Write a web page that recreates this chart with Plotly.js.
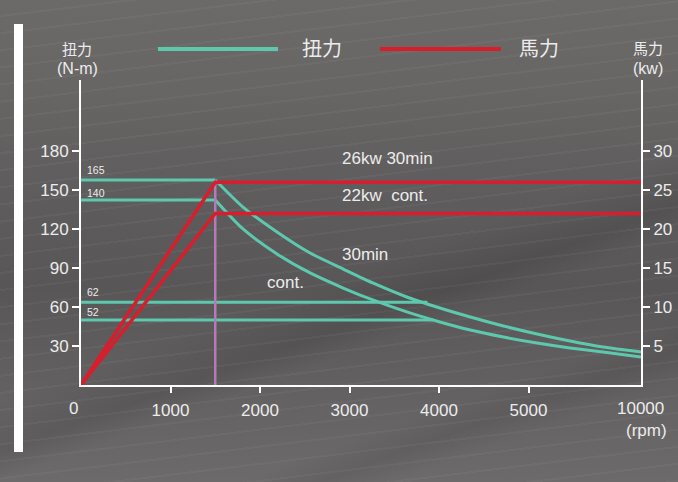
<!DOCTYPE html>
<html>
<head>
<meta charset="utf-8">
<script src="https://cdn.plot.ly/plotly-3.0.1.min.js"></script>
<style>
  html, body { margin:0; padding:0; width:678px; height:482px; overflow:hidden; }
  body {
    position: relative;
    background:
      repeating-linear-gradient(-7deg, rgba(255,255,255,0.035) 0px, rgba(255,255,255,0.035) 2px, rgba(0,0,0,0) 2px, rgba(0,0,0,0) 17px),
      linear-gradient(160deg, rgba(0,0,0,0) 55%, rgba(0,0,0,0.10) 62%, rgba(0,0,0,0) 66%, rgba(0,0,0,0) 78%, rgba(0,0,0,0.08) 82%, rgba(0,0,0,0) 86%),
      linear-gradient(180deg, #6c6969 0%, #686565 18%, #5e5c5c 40%, #585656 60%, #626060 80%, #6c6a6a 100%);
  }
  #bar { position:absolute; left:14px; top:24px; width:9px; height:428px; background:#ffffff; }
  #chart { position:absolute; left:0; top:0; width:678px; height:482px; }
</style>
</head>
<body>
<div id="bar"></div>
<div id="chart"></div>
<script>
// ---- data (rpm, N-m, kW) ----
const xTickRpm = [1000, 2000, 3000, 4000, 5000];
const xTickLabels = ["1000", "2000", "3000", "4000", "5000"];
const yTorqueTicks = [30, 60, 90, 120, 150, 180];
const yPowerTicks = [5, 10, 15, 20, 25, 30];

// 30min torque: flat part and falling curve
const rpm30Flat = [0, 1500];
const torque30Flat = [157.7, 157.7];
const rpm30 = [1500, 1810, 2190, 2560, 2930, 3260, 3640, 4010, 4350, 4720, 5380, 6846, 8310, 10000];
const torque30 = [157.7, 136.9, 117.7, 101.5, 89.2, 78.5, 67.7, 59.2, 52.3, 45.4, 39.2, 33.8, 29.2, 25.4];
// continuous torque: flat part and falling curve
const rpmContFlat = [0, 1500];
const torqueContFlat = [142.3, 142.3];
const rpmCont = [1500, 1810, 2190, 2560, 2930, 3260, 3640, 4010, 4350, 4720, 5380, 6846, 8310, 10000];
const torqueCont = [142.3, 120, 100.8, 86.2, 74.6, 65.4, 56.2, 48.5, 42.3, 36.9, 32.3, 28.5, 25.4, 21.5];
// low torque lines
const rpmLow62 = [0, 3870];
const torqueLow62 = [63.6, 63.6];
const rpmLow52 = [0, 3940];
const torqueLow52 = [50, 50];
// power curves (kW)
const rpmPower = [0, 1500, 10000];
const power30 = [0, 26, 26];
const powerCont = [0, 22, 22];
// base speed marker
const rpmBase = [1500, 1500];
const torqueBase = [0, 157.7];

const torqueLabels = ["165", "140", "62", "52"];
const torqueLabelY = [165.5, 148, 71.5, 56.5];

// broken x axis: 0-5000 linear, 5000-10000 compressed into last segment
const SEG_END = 6257;
function pos(r) { return r <= 5000 ? r : 5000 + (r - 5000) * (SEG_END - 5000) / 5000; }
const P = arr => arr.map(pos);

const TEAL = '#5ec8ae';
const RED = '#d81e2c';
const PURPLE = '#b67ab8';
const TXT = '#ececec';
const FONT = 'Liberation Sans, Arial, Helvetica, sans-serif';
const CJK = 'Noto Sans CJK TC, Noto Sans CJK SC, sans-serif';

const tealLine = {color: TEAL, width: 3};
const tealCurve = {color: TEAL, width: 3, shape: 'spline', smoothing: 0.7};
const traces = [
  {x: P(rpmLow62), y: torqueLow62, mode: 'lines', line: tealLine, yaxis: 'y'},
  {x: P(rpmLow52), y: torqueLow52, mode: 'lines', line: tealLine, yaxis: 'y'},
  {x: P(rpm30Flat), y: torque30Flat, mode: 'lines', line: tealLine, yaxis: 'y'},
  {x: P(rpmContFlat), y: torqueContFlat, mode: 'lines', line: tealLine, yaxis: 'y'},
  {x: P(rpm30), y: torque30, mode: 'lines', line: tealCurve, yaxis: 'y'},
  {x: P(rpmCont), y: torqueCont, mode: 'lines', line: tealCurve, yaxis: 'y'},
  {x: P(rpmPower), y: power30, mode: 'lines', line: {color: RED, width: 3.5}, yaxis: 'y2'},
  {x: P(rpmPower), y: powerCont, mode: 'lines', line: {color: RED, width: 3.5}, yaxis: 'y2'},
  {x: P(rpmBase), y: torqueBase, mode: 'lines', line: {color: PURPLE, width: 2.5}, yaxis: 'y'}
];

const annotations = [];
function txt(text, x, y, size) {
  annotations.push({
    text: text, x: x, y: y, xref: 'x', yref: 'y', showarrow: false,
    font: {family: FONT, size: size, color: TXT}, xanchor: 'left', yanchor: 'middle'
  });
}
// small torque labels
torqueLabels.forEach((t, i) => txt(t, 40, torqueLabelY[i], 10.5));
// curve labels
txt('26kw 30min', pos(2890), 174.5, 17);
txt('22kw&nbsp;&nbsp;cont.', pos(2890), 146, 17);
txt('30min', pos(2890), 100, 17);
txt('cont.', pos(2060), 78.5, 17);
// x-axis end labels
annotations.push({text: '0', x: 0, xref: 'x', y: 0, yref: 'paper', xshift: -8, yshift: -23, showarrow: false,
  font: {family: FONT, size: 17, color: TXT}, xanchor: 'center', yanchor: 'middle'});
annotations.push({text: '10000', x: SEG_END, xref: 'x', y: 0, yref: 'paper', xshift: -1, yshift: -23, showarrow: false,
  font: {family: FONT, size: 17, color: TXT}, xanchor: 'center', yanchor: 'middle'});
annotations.push({text: '(rpm)', x: SEG_END, xref: 'x', y: 0, yref: 'paper', xshift: 5, yshift: -45, showarrow: false,
  font: {family: FONT, size: 17, color: TXT}, xanchor: 'center', yanchor: 'middle'});

const layout = {
  width: 678, height: 482,
  margin: {l: 81, r: 37, t: 80, b: 97, pad: 0},
  paper_bgcolor: 'rgba(0,0,0,0)',
  plot_bgcolor: 'rgba(0,0,0,0)',
  showlegend: false,
  xaxis: {
    range: [0, SEG_END], tickvals: xTickRpm.map(pos), ticktext: xTickLabels,
    showgrid: false, zeroline: false, showline: true, linecolor: '#ffffff', linewidth: 2,
    ticks: 'outside', ticklen: 6, tickwidth: 2, tickcolor: '#ffffff', ticklabelstandoff: 3,
    tickfont: {family: FONT, size: 17, color: TXT}, fixedrange: true
  },
  yaxis: {
    range: [0, 234.6], tickvals: yTorqueTicks,
    showgrid: false, zeroline: false, showline: true, linecolor: '#ffffff', linewidth: 2,
    ticks: 'outside', ticklen: 7, tickwidth: 2, tickcolor: '#ffffff',
    tickfont: {family: FONT, size: 17, color: TXT}
  },
  yaxis2: {
    range: [0, 39.1], tickvals: yPowerTicks, overlaying: 'y', side: 'right',
    showgrid: false, zeroline: false, showline: true, linecolor: '#ffffff', linewidth: 2,
    ticks: 'outside', ticklen: 7, tickwidth: 2, tickcolor: '#ffffff',
    tickfont: {family: FONT, size: 17, color: TXT}
  },
  shapes: [],
  annotations: []
};

// header texts and hand-drawn legend in paper coordinates
const W = 678 - 81 - 37, H = 482 - 80 - 97;
const px = v => (v - 81) / W;
const py = v => (482 - 97 - v) / H;
function ptxt(text, x, y, size, family, anchor) {
  annotations.push({text: text, x: px(x), y: py(y), xref: 'paper', yref: 'paper', showarrow: false,
    xanchor: anchor || 'center', yanchor: 'middle', font: {family: family, size: size, color: TXT}});
}
ptxt('扭力', 77, 49, 15, CJK);
ptxt('(N-m)', 77, 68, 16, FONT);
ptxt('馬力', 648, 48, 15, CJK);
ptxt('(kw)', 648, 68, 16, FONT);
const legendNames = ['扭力', '馬力'];
const legendColors = [TEAL, RED];
const legX = [[158, 278, 300], [380, 501, 517]];
legendNames.forEach((n, i) => {
  layout.shapes.push({type: 'line', xref: 'paper', yref: 'paper', x0: px(legX[i][0]), x1: px(legX[i][1]),
    y0: py(49), y1: py(49), line: {color: legendColors[i], width: 4}});
  ptxt(n, legX[i][2], 48, 20, CJK, 'left');
});
layout.annotations = annotations;

Plotly.newPlot('chart', traces, layout, {displayModeBar: false, staticPlot: true});
</script>
</body>
</html>
